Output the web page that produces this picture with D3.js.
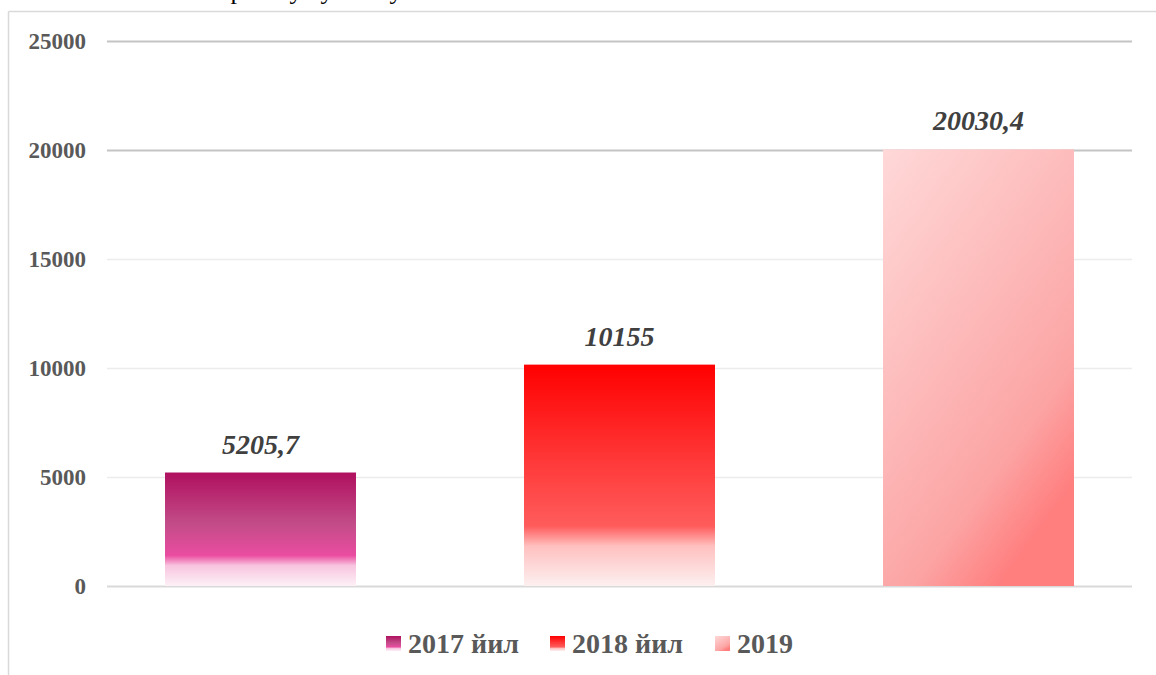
<!DOCTYPE html>
<html lang="uz">
<head>
<meta charset="UTF-8" />
<title>2017-2019</title>
<script src="https://d3js.org/d3.v7.min.js"></script>
<style>
  body {
    margin: 0;
    background: #fff;
    overflow: hidden;
  }
  svg {
    display: block;
    font-family: "Liberation Serif", "Times New Roman", serif;
  }
  .tick-label {
    fill: #595959;
    font-size: 23px;
    font-weight: bold;
  }
  .value-label {
    fill: #404040;
    font-size: 28px;
    font-weight: bold;
    font-style: italic;
  }
  .legend-label {
    fill: #595959;
    font-size: 28px;
    font-weight: bold;
  }
</style>
</head>
<body>

<svg width="1156" height="675"></svg>

<script>
  const width = 1156, height = 675;

  const categories = ["2017 йил", "2018 йил", "2019"];
  const values = [5205.7, 10155, 20030.4];
  const valueLabels = ["5205,7", "10155", "20030,4"];
  const yTicks = [0, 5000, 10000, 15000, 20000, 25000];

  const svg = d3.select("svg");

  // gradients, roughly what the office preset fills look like
  const defs = svg.append("defs");
  const gradSpecs = [
    {id: "g0", x2: "0%", y2: "100%", stops: [
      [0, "#b0105f"], [0.45, "#c24c88"], [0.73, "#ea4ca0"],
      [0.82, "#f8c4df"], [1, "#fdf1f7"]]},
    {id: "g1", x2: "0%", y2: "100%", stops: [
      [0, "#ff0000"], [0.45, "#ff3a3a"], [0.73, "#ff5c5c"],
      [0.82, "#ffc0c0"], [1, "#fdf0f0"]]},
    {id: "g2", x2: "60%", y2: "100%", stops: [
      [0, "#ffd8d8"], [0.5, "#fdb8b8"], [0.8, "#fca4a4"], [1, "#ff7f7f"]]}
  ];
  gradSpecs.forEach(g => {
    const lg = defs.append("linearGradient")
      .attr("id", g.id)
      .attr("x1", "0%").attr("y1", "0%")
      .attr("x2", g.x2).attr("y2", g.y2);
    g.stops.forEach(s => lg.append("stop")
      .attr("offset", s[0]).attr("stop-color", s[1]));
  });

  // chart frame (only left + top edges fall inside the picture)
  svg.append("line")
    .attr("x1", 8.5).attr("x2", 8.5).attr("y1", 11.5).attr("y2", height)
    .attr("stroke", "#d9d9d9").attr("stroke-width", 1.5);
  svg.append("line")
    .attr("x1", 8.5).attr("x2", width).attr("y1", 11.5).attr("y2", 11.5)
    .attr("stroke", "#d9d9d9").attr("stroke-width", 1.5);

  // bits of the document text cut off above the chart
  [["р", 237], ["у", 296], ["у", 327], ["у", 396]].forEach(d => {
    svg.append("text")
      .attr("x", d[1]).attr("y", -1)
      .attr("text-anchor", "middle")
      .attr("font-size", 26)
      .attr("fill", "#000")
      .text(d[0]);
  });

  const y = d3.scaleLinear()
    .domain([0, 25000])
    .range([586, 41]);

  const x = d3.scaleBand()
    .domain(categories)
    .range([81, 1158])
    .paddingInner(0.468)
    .paddingOuter(0.234);

  // gridlines
  svg.append("g")
    .selectAll("line")
    .data(yTicks)
    .join("line")
    .attr("x1", 107).attr("x2", 1132)
    .attr("y1", d => y(d) + 0.5).attr("y2", d => y(d) + 0.5)
    .attr("stroke", d => d >= 20000 ? "#c4c4c4" : (d === 0 ? "#d9d9d9" : "#ececec"))
    .attr("stroke-width", d => d >= 20000 || d === 0 ? 2 : 1.5);

  svg.append("g")
    .selectAll("text")
    .data(yTicks)
    .join("text")
    .attr("class", "tick-label")
    .attr("x", 86)
    .attr("y", d => y(d))
    .attr("dy", "0.35em")
    .attr("text-anchor", "end")
    .text(d => d);

  // bars
  svg.append("g")
    .selectAll("rect")
    .data(values)
    .join("rect")
    .attr("x", (d, i) => x(categories[i]))
    .attr("width", x.bandwidth())
    .attr("y", d => y(d))
    .attr("height", d => y(0) - y(d))
    .attr("fill", (d, i) => `url(#g${i})`);

  svg.append("g")
    .selectAll("text")
    .data(values)
    .join("text")
    .attr("class", "value-label")
    .attr("x", (d, i) => x(categories[i]) + x.bandwidth() / 2)
    .attr("y", d => y(d) - 19)
    .attr("text-anchor", "middle")
    .text((d, i) => valueLabels[i]);

  // legend
  const legendX = [386, 550, 715];
  const legend = svg.append("g")
    .selectAll("g")
    .data(categories)
    .join("g")
    .attr("transform", (d, i) => `translate(${legendX[i]},636)`);

  legend.append("rect")
    .attr("width", 15).attr("height", 15)
    .attr("fill", (d, i) => `url(#g${i})`);

  legend.append("text")
    .attr("class", "legend-label")
    .attr("x", 22)
    .attr("y", 17)
    .text(d => d);
</script>

</body>
</html>
